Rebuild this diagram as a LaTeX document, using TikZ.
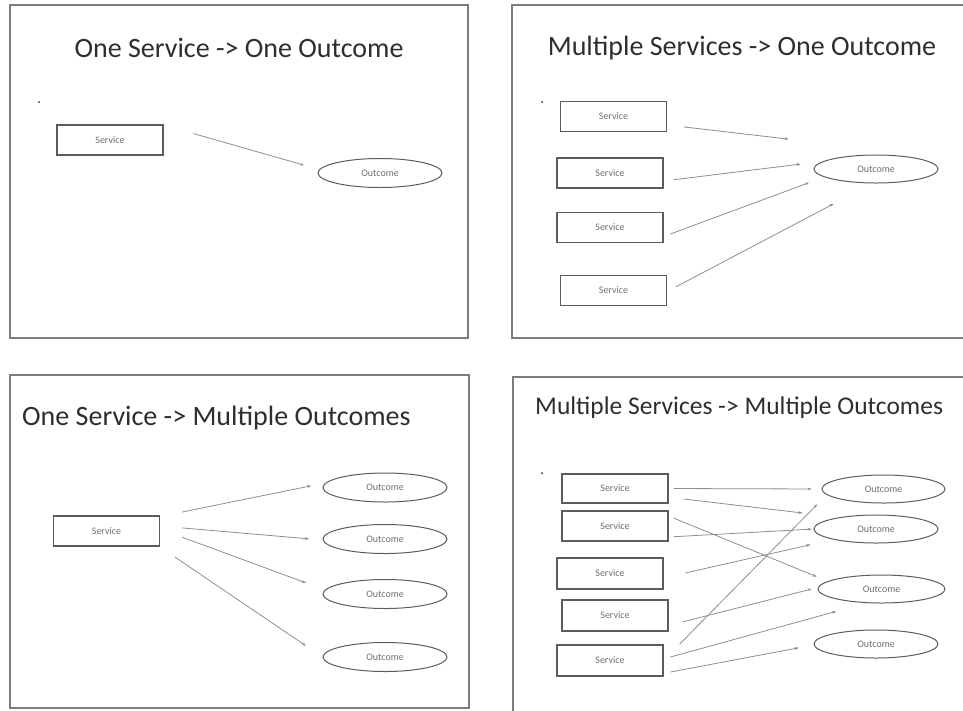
\documentclass[tikz,border=0pt]{standalone}
\usepackage{fontspec}
\setmainfont{Carlito}
\usepackage{tikz}
\usetikzlibrary{
  shapes.geometric,
  arrows.meta
}
\definecolor{FrameGrey}{HTML}{7C7C7C}
\definecolor{BoxGrey}{HTML}{5C5C5C}
\definecolor{LineGrey}{HTML}{8E8E8E}
\definecolor{InkGrey}{HTML}{2E2E2E}
\definecolor{LabelGrey}{HTML}{6E6E6E}
\tikzset{
  % Slide frame
  frm/.style={draw=FrameGrey, line width=1.6pt},
  % Slide title
  ttl/.style={font=\fontsize{28}{30}\selectfont, text=InkGrey, inner sep=0pt},
  % Service box
  svc/.style={
    rectangle, draw=BoxGrey, line width=1.1pt,
    minimum width=106pt, minimum height=30pt, inner sep=0pt,
    font=\fontsize{10}{12}\selectfont, text=LabelGrey
  },
  % Outcome ellipse
  outc/.style={
    ellipse, draw=BoxGrey, line width=1pt,
    minimum width=124pt, minimum height=29pt, inner sep=0pt,
    font=\fontsize{10}{12}\selectfont, text=LabelGrey
  },
  % Arrow
  arr/.style={
    -{Stealth[length=4pt,width=3pt]},
    line width=0.8pt, color=LineGrey
  },
  % Slide bullet
  bul/.style={circle, fill=InkGrey, inner sep=0pt, minimum size=2pt}
}

\begin{document}
\begin{tikzpicture}[x=1pt, y=-1pt]
  \useasboundingbox (0,0) rectangle (963,710);
  \clip (0,0) rectangle (963,710);

  \draw[frm] (10,5) rectangle (468,338);
  \node[ttl] (ttlA) at (239,48) {One Service -> One Outcome};
  \node[bul] (dotA) at (39,102) {};
  \node[svc] (svcA) at (110,140) {Service};
  \node[outc] (outA) at (380,173) {Outcome};
  \draw[arr, shorten <=31pt, shorten >=14pt] ([yshift=15pt]svcA.east) -- ([yshift=4pt]outA.west);

  \draw[frm] (512,5) rectangle (975,338);
  \node[ttl] (ttlB) at (742,48) {Multiple Services -> One Outcome};
  \node[bul] (dotB) at (542,102) {};
  \node[svc] (svcB1) at (613.5,116.5) {Service};
  \node[svc] (svcB2) at (610,173) {Service};
  \node[svc] (svcB3) at (610,227.5) {Service};
  \node[svc] (svcB4) at (613.5,290.5) {Service};
  \node[outc, minimum height=28pt] (outB) at (876,169) {Outcome};
  \draw[arr, shorten <=17pt, shorten >=25pt] ([yshift=-8.5pt]svcB1.east) -- ([yshift=27pt]outB.west);
  \draw[arr, shorten <=10pt, shorten >=13pt] ([yshift=-8pt]svcB2.east) -- ([yshift=6.5pt]outB.west);
  \draw[arr, shorten <=7.5pt, shorten >=5pt] ([yshift=-9pt]svcB3.east) -- ([yshift=-12pt]outB.west);
  \draw[arr, shorten <=10pt, shorten >=48pt] ([yshift=-1pt]svcB4.east) -- ([yshift=2pt]outB.south);

  \draw[frm] (10,375) rectangle (469,708);
  \node[ttl, anchor=west] (ttlC) at (22,418) {One Service -> Multiple Outcomes};
  \node[svc] (svcC) at (106.5,531) {Service};
  \node[outc] (outC1) at (385,487.5) {Outcome};
  \node[outc] (outC2) at (385,539) {Outcome};
  \node[outc] (outC3) at (385,594) {Outcome};
  \node[outc] (outC4) at (385,657) {Outcome};
  \draw[arr, shorten <=22.5pt, shorten >=11.5pt] ([yshift=14.5pt]svcC.east) -- ([yshift=4pt]outC1.west);
  \draw[arr, shorten <=22pt, shorten >=13.5pt] ([yshift=5pt]svcC.east) -- ([yshift=-1pt]outC2.west);
  \draw[arr, shorten <=23.5pt, shorten >=17.5pt] ([yshift=2pt]svcC.east) -- ([yshift=5pt]outC3.west);
  \draw[arr, shorten <=18pt, shorten >=20pt] ([yshift=-16pt]svcC.east) -- (outC4.west);

  \draw[frm] (513,377) rectangle (975,720);
  \node[ttl, anchor=west, font=\fontsize{25.5}{28}\selectfont] (ttlD) at (535,408) {Multiple Services -> Multiple Outcomes};
  \node[bul] (dotD) at (542,473) {};
  \node[svc, minimum height=29pt] (svcD1) at (615,488.5) {Service};
  \node[svc] (svcD2) at (615,526) {Service};
  \node[svc, minimum height=31pt] (svcD3) at (610,573.5) {Service};
  \node[svc, minimum height=31pt] (svcD4) at (615,615.5) {Service};
  \node[svc, minimum height=31pt] (svcD5) at (610,660.5) {Service};
  \node[outc, minimum width=123pt, minimum height=28pt] (outD1) at (883.5,489) {Outcome};
  \node[outc, minimum height=28pt] (outD2) at (876,529) {Outcome};
  \node[outc, minimum width=127pt, minimum height=28pt] (outD3) at (881.5,589) {Outcome};
  \node[outc, minimum height=28pt] (outD4) at (876,644) {Outcome};
  \draw[arr, shorten <=5pt, shorten >=10pt] (svcD1.east) -- (outD1.west);
  \draw[arr, shorten <=15pt, shorten >=11pt] ([yshift=-8.7pt]svcD1.east) -- ([yshift=14.7pt]outD2.west);
  \draw[arr, shorten <=5.4pt, shorten >=1pt] ([yshift=10pt]svcD2.east) -- ([yshift=12pt]outD3.west);
  \draw[arr, shorten <=5pt, shorten >=2pt] ([yshift=-11pt]svcD2.east) -- (outD2.west);
  \draw[arr, shorten <=22.5pt, shorten >=3pt] ([yshift=-4.4pt]svcD3.east) -- ([yshift=-15pt]outD2.west);
  \draw[arr, shorten <=14.4pt, shorten >=6pt] ([yshift=-10pt]svcD4.east) -- ([yshift=1.5pt]outD3.west);
  \draw[arr, shorten <=23pt, shorten >=6pt] (svcD5.east) -- ([yshift=-11pt]outD1.west);
  \draw[arr, shorten <=7pt, shorten >=47pt] ([yshift=1.6pt]svcD5.east) -- ([yshift=4.6pt]outD3.south);
  \draw[arr, shorten <=7pt, shorten >=15pt] ([yshift=-12.8pt]svcD5.east) -- ([yshift=-1pt]outD4.west);
\end{tikzpicture}
\end{document}
